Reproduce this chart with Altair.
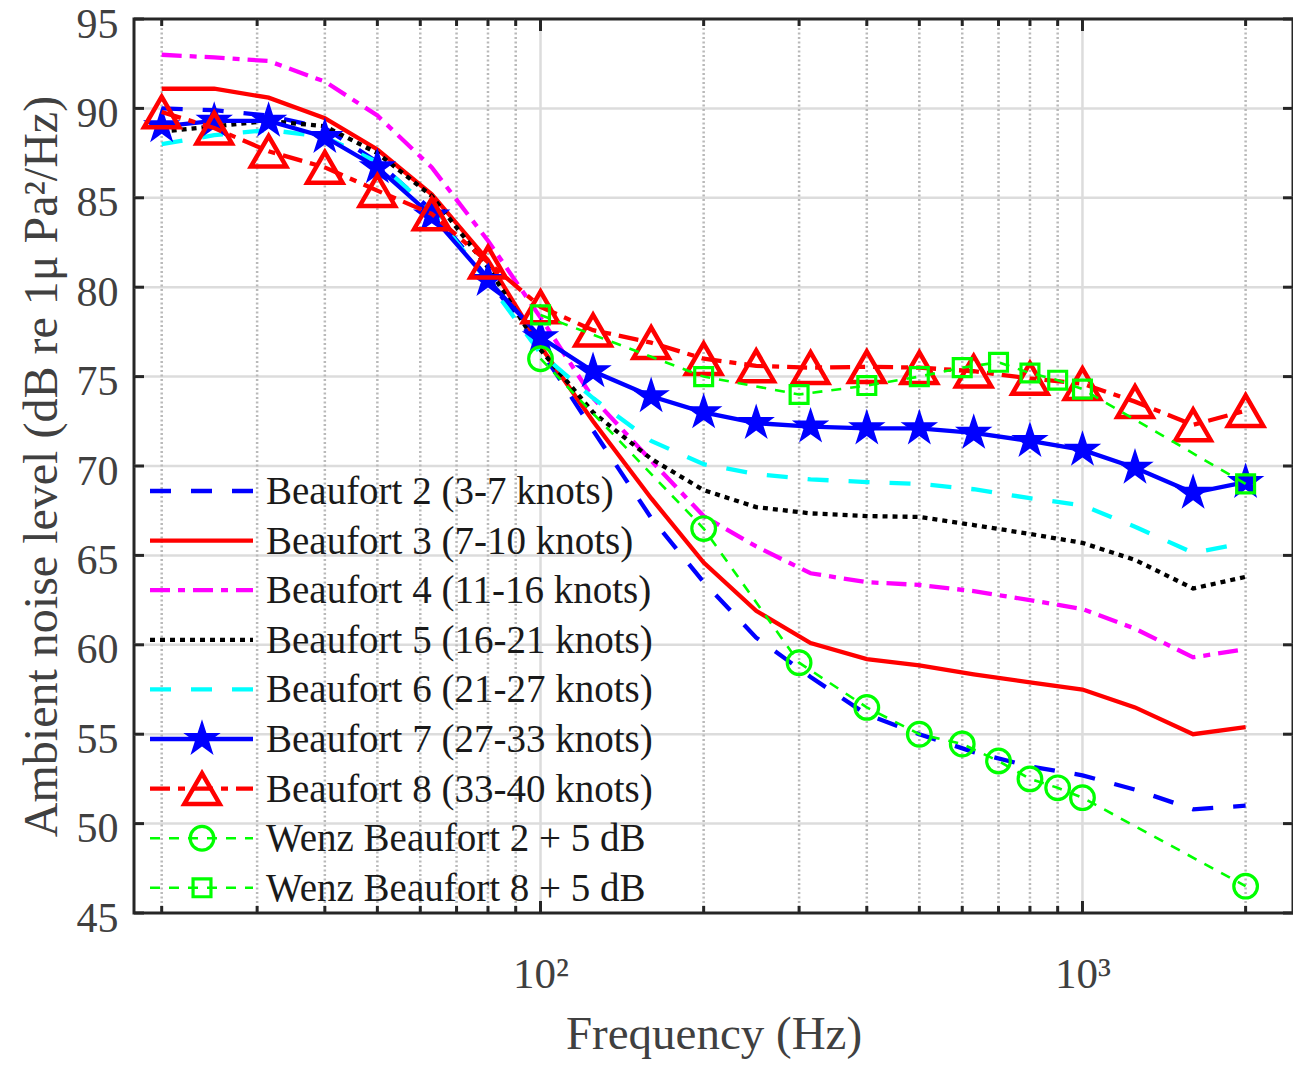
import altair as alt
import pandas as pd

# ---------------- data ----------------
freq = [20, 25, 31.5, 40, 50, 63, 80, 100, 125, 160, 200, 250, 315, 400, 500,
        630, 800, 1000, 1250, 1600, 2000]
b2 = [90.0, 89.9, 89.6, 88.9, 87.0, 84.3, 80.5, 76.5, 72.0, 67.1, 63.5, 60.4,
      58.2, 56.1, 55.0, 54.0, 53.2, 52.7, 51.9, 50.8, 51.0]
b3 = [91.1, 91.1, 90.6, 89.45, 87.7, 85.2, 81.5, 76.7, 72.5, 68.2, 64.6, 61.9,
      60.1, 59.2, 58.85, 58.35, 57.9, 57.5, 56.5, 55.0, 55.4]
b4 = [93.0, 92.85, 92.65, 91.5, 89.6, 86.7, 82.6, 78.3, 73.8, 70.3, 67.2, 65.5,
      64.0, 63.5, 63.35, 63.0, 62.5, 62.0, 60.9, 59.3, 59.75]
b5 = [88.7, 89.0, 89.3, 89.0, 87.5, 85.1, 81.1, 76.5, 73.0, 70.4, 68.65, 67.7,
      67.35, 67.2, 67.15, 66.7, 66.2, 65.7, 64.75, 63.15, 63.8]
b6 = [88.0, 88.5, 88.8, 88.4, 87.0, 84.3, 80.3, 76.3, 73.8, 71.4, 70.1, 69.55,
      69.25, 69.1, 69.0, 68.7, 68.2, 67.8, 66.6, 65.15, 65.7]
b7 = [89.0, 89.3, 89.3, 88.4, 86.7, 84.0, 80.4, 77.2, 75.3, 73.9, 73.0, 72.4,
      72.2, 72.1, 72.1, 71.85, 71.4, 70.9, 69.9, 68.5, 69.1]
b8 = [89.8, 88.9, 87.6, 86.7, 85.4, 84.1, 81.4, 78.9, 77.6, 76.9, 76.0, 75.6,
      75.5, 75.55, 75.5, 75.3, 74.9, 74.6, 73.6, 72.3, 73.1]

wenz_freq = [100, 200, 300, 400, 500, 600, 700, 800, 900, 1000, 2000]
w2 = [76.0, 66.5, 59.0, 56.5, 55.0, 54.45, 53.5, 52.5, 52.0, 51.45, 46.5]
w8 = [78.45, 75.0, 74.0, 74.5, 75.0, 75.5, 75.8, 75.2, 74.8, 74.3, 69.0]

labels = ["Beaufort 2 (3-7 knots)", "Beaufort 3 (7-10 knots)",
          "Beaufort 4 (11-16 knots)", "Beaufort 5 (16-21 knots)",
          "Beaufort 6 (21-27 knots)", "Beaufort 7 (27-33 knots)",
          "Beaufort 8 (33-40 knots)", "Wenz Beaufort 2 + 5 dB",
          "Wenz Beaufort 8 + 5 dB"]

y_ticks = [45, 50, 55, 60, 65, 70, 75, 80, 85, 90, 95]
x_major = [100, 1000]
x_minor = [20, 30, 40, 50, 60, 70, 80, 90, 200, 300, 400, 500, 600, 700, 800,
           900, 2000]

# ---------------- styling ----------------
FONT = "Liberation Serif"
W, H = 1159, 894
AXC = "#262626"
TXT = "#404040"
LW = 4.3
STAR = ("M0,-1L0.2245,-0.309L0.951,-0.309L0.363,0.118L0.588,0.809L0,0.382"
        "L-0.588,0.809L-0.363,0.118L-0.951,-0.309L-0.2245,-0.309Z")

xs = alt.Scale(type="log", domain=[17.78, 2446], nice=False)
ys = alt.Scale(domain=[45, 95], nice=False, zero=False)

xaxis = alt.Axis(values=x_major,
                 labelExpr="datum.value == 100 ? '10\u00b2' : '10\u00b3'",
                 grid=False, ticks=False, domain=False, labelFlush=False,
                 labelOverlap=False, labelFont=FONT, labelFontSize=43,
                 labelColor=TXT, labelPadding=40,
                 title="Frequency (Hz)", titleFont=FONT, titleFontSize=47,
                 titleFontWeight="normal", titleColor=TXT, titleY=135,
                 titleBaseline="alphabetic")
yaxis = alt.Axis(values=y_ticks, grid=False, ticks=False, domain=False,
                 labelFont=FONT, labelFontSize=42, labelColor=TXT,
                 labelPadding=16, labelBaseline="alphabetic", labelOffset=18,
                 title="Ambient noise level (dB re 1\u03bc Pa\u00b2/Hz)",
                 titleFont=FONT, titleFontSize=48, titleFontWeight="normal",
                 titleColor=TXT, titleX=-92, titleY=H / 2, titleAngle=270,
                 titleBaseline="middle")


def X(field="f"):
    return alt.X(f"{field}:Q", scale=xs, axis=xaxis)


def Y(field="v"):
    return alt.Y(f"{field}:Q", scale=ys, axis=yaxis)


layers = []

# grid
layers.append(alt.Chart(pd.DataFrame({"v": y_ticks[1:-1]})).mark_rule(
    color="#dcdcdc", strokeWidth=2.5).encode(y=Y()))
layers.append(alt.Chart(pd.DataFrame({"f": x_minor})).mark_rule(
    color="#b9b9b9", strokeWidth=2.5, strokeDash=[2, 2.5]).encode(x=X()))
layers.append(alt.Chart(pd.DataFrame({"f": x_major})).mark_rule(
    color="#dcdcdc", strokeWidth=2.5).encode(x=X()))

# series: (label, freqs, values, colour, dash, width, shape, size, filled, mstroke)
series = [
    (labels[0], freq, b2, "#0000ff", [21, 20], LW, None, 0, False, 0),
    (labels[1], freq, b3, "#ff0000", None, LW, None, 0, False, 0),
    (labels[2], freq, b4, "#ff00ff", [20, 8, 7, 8], LW, None, 0, False, 0),
    (labels[3], freq, b5, "#000000", [5, 5], LW, None, 0, False, 0),
    (labels[4], freq, b6, "#00ffff", [21, 20], LW, None, 0, False, 0),
    (labels[5], freq, b7, "#0000ff", None, LW, STAR, 1550, True, 0),
    (labels[6], freq, b8, "#ff0000", [20, 8, 7, 8], LW, "triangle-up", 1250, False, 4.5),
    (labels[7], wenz_freq, w2, "#00ff00", [10, 9], 2.6, "circle", 560, False, 3.2),
    (labels[8], wenz_freq, w8, "#00ff00", [10, 9], 2.6, "square", 320, False, 3.2),
]


def point_kw(shape, size, filled, col, mst):
    kw = dict(shape=shape, size=size, opacity=1)
    if filled:
        kw.update(filled=True, fill=col, strokeWidth=0)
    else:
        kw.update(filled=False, color=col, strokeWidth=mst)
    return kw


for (lab, fx, vals, col, dash, lw, shape, size, filled, mst) in series:
    df = pd.DataFrame({"f": fx, "v": vals})
    lkw = dict(color=col, strokeWidth=lw)
    if dash:
        lkw["strokeDash"] = dash
    layers.append(alt.Chart(df).mark_line(**lkw).encode(x=X(), y=Y()))
    if shape:
        layers.append(alt.Chart(df).mark_point(
            **point_kw(shape, size, filled, col, mst)).encode(x=X(), y=Y()))

# inward ticks on all four sides
ydf = pd.DataFrame({"v": y_ticks})
layers.append(alt.Chart(ydf).mark_rule(color=AXC, strokeWidth=3).encode(
    y=Y(), x=alt.value(0), x2=alt.value(10)))
layers.append(alt.Chart(ydf).mark_rule(color=AXC, strokeWidth=3).encode(
    y=Y(), x=alt.value(W - 10), x2=alt.value(W)))
for vals, ln in ((x_minor, 7), (x_major, 12)):
    xdf = pd.DataFrame({"f": vals})
    layers.append(alt.Chart(xdf).mark_rule(color=AXC, strokeWidth=3).encode(
        x=X(), y=alt.value(H - ln), y2=alt.value(H)))
    layers.append(alt.Chart(xdf).mark_rule(color=AXC, strokeWidth=3).encode(
        x=X(), y=alt.value(0), y2=alt.value(ln)))

# legend (inside, lower-left, no box)
ROW0, STEP = 472, 49.6
for i, (lab, fx, vals, col, dash, lw, shape, size, filled, mst) in enumerate(series):
    ry = ROW0 + STEP * i
    ldf = pd.DataFrame({"label": [lab]})
    rkw = dict(color=col, strokeWidth=lw)
    if dash:
        rkw["strokeDash"] = dash
    layers.append(alt.Chart(ldf).mark_rule(**rkw).encode(
        x=alt.value(16), x2=alt.value(119), y=alt.value(ry)))
    if shape:
        layers.append(alt.Chart(ldf).mark_point(
            **point_kw(shape, size, filled, col, mst)).encode(
            x=alt.value(68), y=alt.value(ry)))
    layers.append(alt.Chart(ldf).mark_text(
        align="left", baseline="alphabetic", font=FONT, fontSize=39,
        color="#1a1a1a").encode(x=alt.value(132), y=alt.value(ry + 13),
                                text="label:N"))

chart = alt.layer(*layers).properties(
    width=W, height=H,
    padding={"left": 126, "top": 11, "right": 0, "bottom": 150},
    autosize=alt.AutoSizeParams(type="none"),
    background="white",
).configure_view(stroke=AXC, strokeWidth=3)

chart.save("out.html", embed_options={"renderer": "svg", "actions": False})
